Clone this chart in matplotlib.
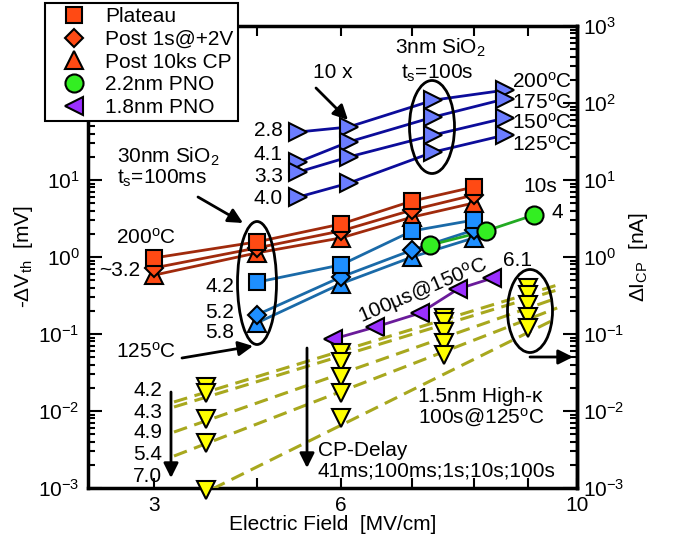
import numpy as np
import matplotlib
matplotlib.use('Agg')
import matplotlib.pyplot as plt
from matplotlib.patches import Ellipse
from matplotlib.lines import Line2D
from matplotlib.ticker import FixedLocator, FixedFormatter, NullFormatter, LogLocator

plt.rcParams['font.family'] = ['Liberation Sans', 'DejaVu Sans']
plt.rcParams['mathtext.fontset'] = 'custom'
plt.rcParams['mathtext.rm'] = 'Liberation Sans'
plt.rcParams['mathtext.it'] = 'Liberation Sans:italic'
plt.rcParams['mathtext.default'] = 'regular'

# 30nm SiO2, ts=100ms  (E in MV/cm, -dVth in mV)
e_30nm_200 = [4.0, 5.0, 6.0, 7.0, 8.0]
plateau_200 = [0.97, 1.57, 2.68, 5.33, 8.1]
post1s_200 = [0.72, 1.31, 2.18, 4.08, 6.38]
post10ks_200 = [0.58, 1.13, 1.77, 3.30, 5.03]
e_30nm_125 = [5.0, 6.0, 7.0, 8.0]
plateau_125 = [0.47, 0.79, 2.18, 3.02]
post1s_125 = [0.177, 0.55, 1.23, 2.24]
post10ks_125 = [0.139, 0.45, 1.0, 1.77]

# 3nm SiO2, ts=100s (shown 10x)
e_3nm = [5.47, 6.10, 7.33, 8.56]
sio2_3nm = {
    '200': [42, 48.8, 109, 147],
    '175': [17.1, 31.2, 65.8, 113],
    '150': [12.7, 19.9, 38.4, 63.8],
    '125': [6.0, 9.1, 23.1, 38.4],
}

# 2.2nm PNO, 10s
e_pno22 = [7.28, 8.21, 9.11]
v_pno22 = [1.43, 2.18, 3.51]

# 1.8nm PNO, 100us @ 150C
e_pno18 = [5.90, 6.46, 7.12, 7.73, 8.32]
v_pno18 = [0.086, 0.123, 0.187, 0.384, 0.53]

# 1.5nm high-k, dIcp in nA, CP delays 41ms;100ms;1s;10s;100s
e_hk = [4.48, 6.0, 7.5, 8.99]
icp_hk = [
    [0.0205, 0.0566, 0.161, 0.395],
    [0.0171, 0.0433, 0.143, 0.321],
    [0.00787, 0.0277, 0.106, 0.238],
    [0.00384, 0.0171, 0.0764, 0.166],
    [0.00094, 0.0081, 0.0533, 0.120],
]
e_hk_fit = [4.18, 9.58]
icp_hk_fit = [
    [0.0131, 0.432],
    [0.01127, 0.373],
    [0.00533, 0.294],
    [0.0026, 0.218],
    [0.00055, 0.161],
]

red, red_line = '#ff4a14', '#a02a0c'
blue, blue_line = '#1e8fff', '#1a6aa8'
navy_mk, navy_line = '#6b7dff', '#0c0c9a'
green, green_line = '#33ee22', '#22aa22'
purple, purple_line = '#9b30ff', '#6a1b9a'
yellow, olive = '#ffff00', '#a8a81e'

fig = plt.figure(figsize=(6.74, 5.39), dpi=100)
L, R, T, B = 88, 577, 26, 488
ax = fig.add_axes([L / 674, 1 - B / 539, (R - L) / 674, (B - T) / 539])
ax2 = ax.twinx()

mk = dict(mec='k', mew=1.5, ls='none', zorder=4)
SQ, DI, TR, CI = 12, 9, 13, 13

# red: 200C
for vals in [plateau_200, post1s_200, post10ks_200]:
    ax.plot(e_30nm_200, vals, '-', color=red_line, lw=2, zorder=3)
for vals, m, ms in [(post10ks_200, '^', TR), (post1s_200, 'D', DI), (plateau_200, 's', SQ)]:
    ax.plot(e_30nm_200, vals, marker=m, ms=ms, mfc=red, **mk)

# blue: 125C
for vals in [plateau_125, post1s_125, post10ks_125]:
    ax.plot(e_30nm_125, vals, '-', color=blue_line, lw=2, zorder=3)
for vals, m, ms in [(post10ks_125, '^', TR), (post1s_125, 'D', DI), (plateau_125, 's', SQ)]:
    ax.plot(e_30nm_125, vals, marker=m, ms=ms, mfc=blue, **mk)

# 3nm SiO2
for key, vals in sio2_3nm.items():
    ax.plot(e_3nm, vals, '-', color=navy_line, lw=2, zorder=3)
for key, vals in sio2_3nm.items():
    ax.plot(e_3nm, vals, marker='>', ms=TR, mfc=navy_mk, **mk)

# PNO
ax.plot(e_pno22, v_pno22, '-', color=green_line, lw=2, zorder=3)
ax.plot(e_pno22, v_pno22, marker='o', ms=CI, mfc=green, **mk)
ax.plot(e_pno18, v_pno18, '-', color=purple_line, lw=2, zorder=3)
ax.plot(e_pno18, v_pno18, marker='<', ms=TR, mfc=purple, **mk)

# high-k on the right axis
for fit in icp_hk_fit:
    ax2.plot(e_hk_fit, fit, '--', color=olive, lw=2.2, dashes=(4.5, 2.5), zorder=3)
for row in icp_hk:
    ax2.plot(e_hk, row, marker='v', ms=TR, mfc=yellow, clip_on=False, **mk)

for a in (ax, ax2):
    a.set_xscale('log')
    a.set_yscale('log')
    a.set_ylim(1e-3, 1e3)
    a.yaxis.set_minor_locator(LogLocator(subs=np.arange(2, 10), numticks=20))
    a.yaxis.set_minor_formatter(NullFormatter())
ax.set_xlim(3.47, 10)
ax.xaxis.set_major_locator(FixedLocator([4, 6, 10]))
ax.xaxis.set_major_formatter(FixedFormatter(['3', '6', '10']))  # labels as printed
ax.xaxis.set_minor_locator(FixedLocator([5, 7, 8, 9]))
ax.xaxis.set_minor_formatter(NullFormatter())

ax.tick_params(axis='x', which='both', direction='in', top=True, length=7, width=1.5,
               labelsize=15, pad=6)
ax.tick_params(axis='y', which='both', direction='in', right=False, width=1.5, labelsize=15, pad=6)
ax.tick_params(axis='y', which='major', length=10)
ax.tick_params(axis='y', which='minor', length=5)
ax2.tick_params(axis='x', which='both', bottom=False, top=False,
                labelbottom=False, labeltop=False)
ax2.tick_params(axis='y', which='both', direction='in', width=1.5, labelsize=15, pad=4)
ax2.tick_params(axis='y', which='major', length=10)
ax2.tick_params(axis='y', which='minor', length=5)
for s in ax.spines.values():
    s.set_linewidth(2.5)
for s in ['left', 'top', 'bottom']:
    ax2.spines[s].set_visible(False)
ax2.spines['right'].set_linewidth(2.5)

ax.set_xlabel('Electric Field  [MV/cm]', fontsize=15, labelpad=0)
ax.set_ylabel('-ΔV$_{th}$  [mV]', fontsize=15, labelpad=2)
ax2.set_ylabel('ΔI$_{CP}$  [nA]', fontsize=15, labelpad=2)


def px(x, y):
    return ((x - L) / (R - L), (B - y) / (B - T))


def txt(x, y, s, ha='center', va='center', **kw):
    ax2.text(*px(x, y), s, transform=ax2.transAxes, ha=ha, va=va, fontsize=15, **kw)


def arrow(x1, y1, x2, y2):
    ax2.annotate('', xy=px(x2, y2), xytext=px(x1, y1), xycoords='axes fraction',
                 textcoords='axes fraction',
                 arrowprops=dict(arrowstyle='-|>', color='k', lw=2, mutation_scale=22,
                                 shrinkA=0, shrinkB=0))


def ellipse(cx, cy, w, h):
    ax2.add_patch(Ellipse(px(cx, cy), w / (R - L), h / (B - T), transform=ax2.transAxes,
                          fill=False, ec='k', lw=2, zorder=5))


deg = '$^{o}$'
# 3nm SiO2 annotations
txt(333, 72, '10 x')
arrow(316, 88, 348, 120)
txt(440, 48, '3nm SiO$_2$')
txt(437, 73, 't$_s$=100s')
ellipse(432, 127, 45, 93)
for y, t in [(82, '200'), (103, '175'), (123, '150'), (145, '125')]:
    txt(572, y, t + deg + 'C', ha='right')
for y, t in [(131, '2.8'), (155, '4.1'), (177, '3.3'), (199, '4.0')]:
    txt(283, y, t, ha='right')

# 30nm SiO2 annotations
txt(117, 157, '30nm SiO$_2$', ha='left')
txt(117, 178, 't$_s$=100ms', ha='left')
arrow(198, 197, 243, 223)
ellipse(257, 283, 39, 123)
txt(146, 238, '200' + deg + 'C')
txt(140, 271, '~3.2', ha='right')
for y, t in [(287, '4.2'), (313, '5.2'), (332, '5.8')]:
    txt(234, y, t, ha='right')
txt(146, 352, '125' + deg + 'C')
arrow(182, 358, 253, 346)

# PNO annotations
txt(540, 186, '10s')
txt(557, 213, '4')
txt(517, 260, '6.1')
ax2.text(*px(423, 291), '100µs@150' + deg + 'C', transform=ax2.transAxes, ha='center',
         va='center', fontsize=15, rotation=23, rotation_mode='anchor')

# high-k annotations
for y, t in [(390, '4.2'), (412, '4.3'), (433, '4.9'), (455, '5.4'), (477, '7.0')]:
    txt(162, y, t, ha='right')
arrow(171, 392, 171, 478)
arrow(307, 348, 307, 468)
txt(318, 450, 'CP-Delay', ha='left')
txt(318, 471, '41ms;100ms;1s;10s;100s', ha='left')
txt(418, 396, '1.5nm High-κ', ha='left')
txt(418, 418, '100s@125' + deg + 'C', ha='left')
ellipse(530, 311, 45, 83)
arrow(530, 357, 573, 357)

lh = dict(mec='k', mew=1.5, ls='none')
handles = [
    Line2D([], [], marker='s', ms=SQ, mfc=red, **lh),
    Line2D([], [], marker='D', ms=DI, mfc=red, **lh),
    Line2D([], [], marker='^', ms=TR, mfc=red, **lh),
    Line2D([], [], marker='o', ms=CI, mfc=green, **lh),
    Line2D([], [], marker='<', ms=TR, mfc=purple, **lh),
]
labels = ['Plateau', 'Post 1s@+2V', 'Post 10ks CP', '2.2nm PNO', '1.8nm PNO']
leg = ax2.legend(handles, labels, loc='upper left', bbox_to_anchor=(45 / 674, 1 - 3 / 539),
                 bbox_transform=fig.transFigure, fontsize=15, frameon=True, fancybox=False,
                 edgecolor='k', framealpha=1, borderpad=0.2, labelspacing=0.18,
                 handletextpad=0.3, handlelength=2.4, borderaxespad=0)
leg.get_frame().set_linewidth(1.5)
leg.set_zorder(10)

fig.savefig('out.png', dpi=100)
